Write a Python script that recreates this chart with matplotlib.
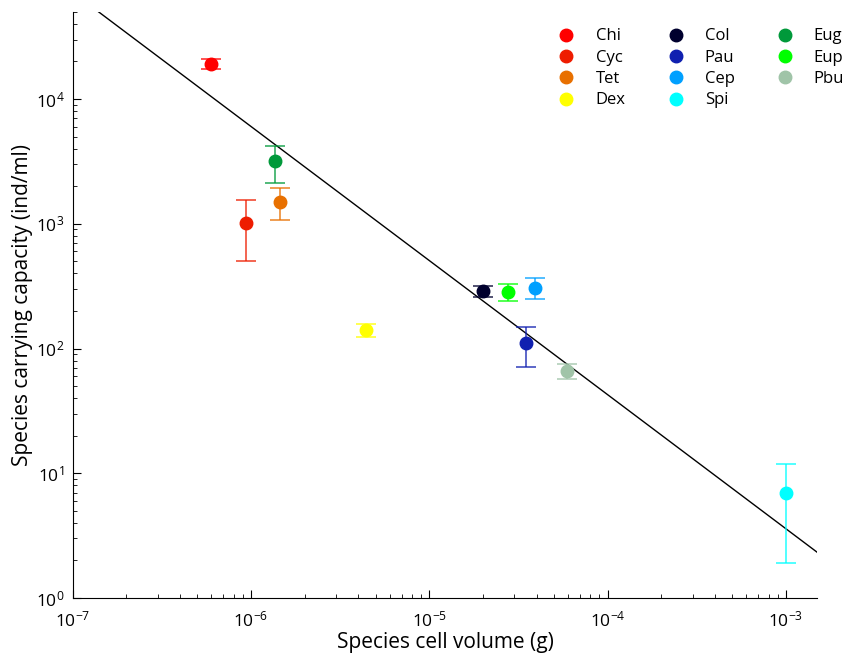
import matplotlib
matplotlib.use("Agg")
import matplotlib.pyplot as plt
import numpy as np

plt.rcParams['font.family'] = ['Open Sans', 'DejaVu Sans']
plt.rcParams['mathtext.fontset'] = 'custom'
plt.rcParams['mathtext.rm'] = 'Open Sans'
plt.rcParams['mathtext.it'] = 'Open Sans'

# species data
species = ['Chi', 'Cyc', 'Tet', 'Dex', 'Col', 'Pau', 'Cep', 'Spi', 'Eug', 'Eup', 'Pbu']
volume = [6.0e-7, 9.4e-7, 1.45e-6, 4.4e-6, 2.0e-5, 3.5e-5, 3.9e-5, 1.0e-3, 1.37e-6, 2.77e-5, 5.9e-5]
capacity = [1.92e4, 1017, 1507, 141, 288, 111, 308, 6.9, 3175, 283, 66.5]
cap_hi = [2.1e4, 1550, 1940, 157, 319, 150, 366, 11.9, 4215, 326, 74.8]
cap_lo = [1.73e4, 507, 1069, 124, 258, 71, 250, 1.9, 2140, 241, 57]
colors = ['#ff0000', '#ee1c00', '#e87000', '#ffff00', '#00002e', '#1020b0',
          '#00a0ff', '#00ffff', '#00993a', '#00ff00', '#a0c4a8']

# fitted power law: log10(K) = a + b*log10(V)
fit_a = -2.67
fit_b = -1.075

fig = plt.figure(figsize=(8.44, 6.57), dpi=100)
ax = fig.add_axes([0.0861, 0.0898, 0.8823, 0.8922])

xlim = (1e-7, 1.5e-3)
xx = np.logspace(np.log10(xlim[0]), np.log10(xlim[1]), 50)
ax.plot(xx, 10 ** (fit_a + fit_b * np.log10(xx)), color='black', lw=1)

for i in range(len(species)):
    err = [[capacity[i] - cap_lo[i]], [cap_hi[i] - capacity[i]]]
    ax.errorbar([volume[i]], [capacity[i]], yerr=err, fmt='none',
                ecolor=colors[i], elinewidth=1.2, capsize=7.5, capthick=1.2, alpha=0.8)
    ax.plot([volume[i]], [capacity[i]], 'o', color=colors[i], markersize=9,
            label=species[i], linestyle='none')

ax.set_xscale('log')
ax.set_yscale('log')
ax.set_xlim(*xlim)
ax.set_ylim(1, 5e4)

ax.spines['top'].set_visible(False)
ax.spines['right'].set_visible(False)
ax.tick_params(which='both', direction='in', labelsize=12.5)
ax.tick_params(which='major', length=6)
ax.tick_params(which='minor', length=3)
ax.tick_params(axis='x', which='major', pad=9)
ax.tick_params(axis='y', which='major', pad=6)

ax.set_xlabel('Species cell volume (g)', fontsize=15, labelpad=1)
ax.set_ylabel('Species carrying capacity (ind/ml)', fontsize=15, labelpad=2)

ax.legend(ncol=3, frameon=False, loc='upper right', fontsize=12,
          handletextpad=0.75, columnspacing=2.0, labelspacing=0.32,
          borderpad=0.2, borderaxespad=0.2, bbox_to_anchor=(1.045, 0.983))

fig.savefig('out.png', dpi=100)
